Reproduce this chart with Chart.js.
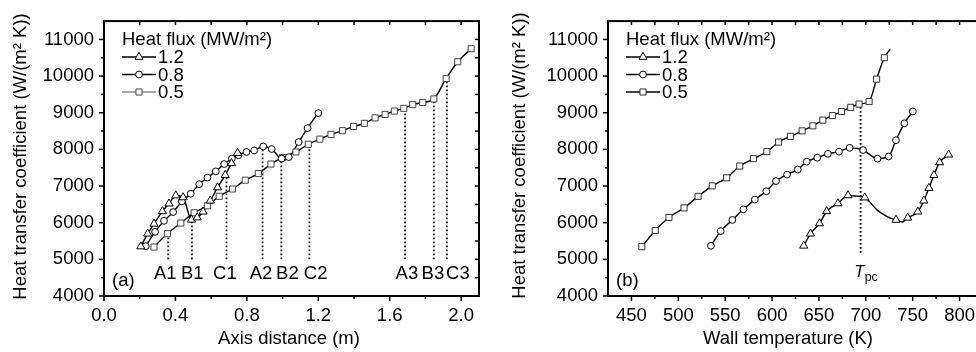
<!DOCTYPE html>
<html><head><meta charset="utf-8">
<script src="https://cdn.jsdelivr.net/npm/chart.js@4.4.1/dist/chart.umd.min.js"></script>
<style>
html,body{margin:0;padding:0;background:#fff;}
body{width:976px;height:352px;overflow:hidden;position:relative;}
#wa{position:absolute;left:0;top:0;width:490px;height:352px;}
#wb{position:absolute;left:490px;top:0;width:500px;height:352px;}
</style></head><body>
<div id="wa"><canvas id="ca" width="490" height="352"></canvas></div>
<div id="wb"><canvas id="cb" width="500" height="352"></canvas></div>
<script>
// ---------- DATA ----------
const legendTitle = 'Heat flux (MW/m²)';
const fluxLabels = ['1.2', '0.8', '0.5'];

// Panel (a): axis distance (m) vs heat transfer coefficient
const distA12 = [0.206,0.245,0.280,0.327,0.364,0.402,0.443,0.490,0.522,0.555,0.595,0.636,0.679,0.714,0.748];
const htcA12  = [5350,5700,5970,6310,6520,6740,6690,6080,6140,6300,6600,6960,7300,7620,7900];
const distA08 = [0.234,0.286,0.336,0.387,0.436,0.486,0.533,0.579,0.626,0.673,0.716,0.753,0.798,0.841,0.892,0.939,0.995,1.035,1.090,1.140,1.200];
const htcA08  = [5360,5750,6050,6290,6580,6790,7050,7230,7400,7600,7750,7840,7930,7970,8080,8010,7750,7790,8200,8580,8990];
const distA08end = [1.215];
const htcA08end  = [9060];
const distA05 = [0.280,0.355,0.430,0.505,0.579,0.645,0.720,0.791,0.864,0.935,1.000,1.075,1.144,1.209,1.271,1.336,1.398,1.458,1.518,1.574,1.626,1.679,1.729,1.785,1.847,1.916,1.981,2.056];
const htcA05  = [5335,5700,5990,6270,6460,6720,6920,7160,7340,7600,7780,7930,8140,8280,8410,8510,8625,8710,8860,8955,9045,9120,9220,9280,9375,9935,10390,10745];

// Panel (a) marker lines A1..C3
const markNames = ['A1','B1','C1','A2','B2','C2','A3','B3','C3'];
const markDist  = [0.360,0.492,0.686,0.888,0.993,1.150,1.686,1.847,1.920];
const markTop   = [5700,6100,7250,8000,7760,8150,9120,9330,9970];
const markBottom = 5000;
const markLabelDist = [0.343,0.494,0.677,0.879,1.027,1.185,1.696,1.842,1.982];
const markLabelHtc = 4600;

// Panel (b): wall temperature (K) vs heat transfer coefficient
const tempB12 = [633.8,641.0,650.6,658.2,670.3,681.0,698.9,732.2,744.7,755.5,761.9,767.3,772.6,778.7,788.3];
const htcB12  = [5370,5700,5980,6310,6525,6745,6685,6075,6135,6300,6600,6945,7295,7645,7855];
const tempB12curve = [690.0,712.5,723.3,739.0];
const htcB12curve  = [6725,6336,6161,6020];
const tempB08 = [534.8,545.2,557.6,569.4,581.6,593.8,604.2,616.0,627.4,637.0,648.2,659.6,671.4,682.8,697.1,712.5,724.3,732.2,741.1,750.1];
const htcB08  = [5370,5770,6075,6365,6630,6858,7136,7311,7450,7665,7773,7878,7938,8042,7982,7747,7807,8251,8712,9035];
const tempB05 = [461.1,475.4,490.0,506.1,521.1,536.2,551.6,565.5,580.2,594.5,607.0,619.5,632.1,643.5,654.2,664.3,674.2,683.9,692.8,703.5,711.5,719.7];
const htcB05  = [5345,5787,6143,6404,6718,7005,7224,7546,7747,7938,8199,8356,8505,8642,8799,8921,9035,9148,9236,9305,9916,10501];
const tempB05end = [726.1];
const htcB05end  = [10736];
const tpc = 694.5;
const tpcTop = 9230, tpcBottom = 5180;

// Ticks
const yTicks = [4000,5000,6000,7000,8000,9000,10000,11000];
const yMinor = [4500,5500,6500,7500,8500,9500,10500,11500];
const xTicksA = [0.0,0.4,0.8,1.2,1.6,2.0];
const xMinorA = [0.2,0.6,1.0,1.4,1.8];
const xTicksB = [450,500,550,600,650,700,750,800];
const xMinorB = [475,525,575,625,675,725,775];

// ---------- RENDER ----------
const FONT = "'Liberation Sans', Arial, Helvetica, sans-serif";
const FS = 18.5;
Chart.defaults.font.family = FONT;
Chart.defaults.font.size = FS;
Chart.defaults.color = '#000';

const pts = (xs, ys) => xs.map((v, i) => ({x: v, y: ys[i]}));

function seg(ctx, x1, y1, x2, y2) { ctx.beginPath(); ctx.moveTo(x1, y1); ctx.lineTo(x2, y2); ctx.stroke(); }

function makeDeco(conf) {
  return {
    id: 'deco',
    afterDatasetsDraw(chart) {
      const ctx = chart.ctx, xs = chart.scales.x, ys = chart.scales.y, a = chart.chartArea;
      ctx.save();
      ctx.strokeStyle = '#000'; ctx.lineWidth = 1.5; ctx.lineCap = 'butt';
      conf.xMajor.forEach(v => { const p = xs.getPixelForValue(v); seg(ctx, p, a.bottom, p, a.bottom + 5); });
      conf.xMinor.forEach(v => { const p = xs.getPixelForValue(v); seg(ctx, p, a.bottom, p, a.bottom + 3); });
      conf.xMajor.concat(conf.xMinor).forEach(v => { const p = xs.getPixelForValue(v); seg(ctx, p, a.top, p, a.top + 4); });
      yTicks.forEach(v => { const p = ys.getPixelForValue(v); seg(ctx, a.left - 5, p, a.left, p); });
      yMinor.forEach(v => { const p = ys.getPixelForValue(v); if (p > a.top + 1) seg(ctx, a.left - 3, p, a.left, p); });
      yTicks.concat(yMinor).forEach(v => { const p = ys.getPixelForValue(v); if (p > a.top + 1) seg(ctx, a.right - 4, p, a.right, p); });
      ctx.lineWidth = 2;
      ctx.strokeRect(a.left, a.top, a.right - a.left, a.bottom - a.top);

      // legend
      ctx.fillStyle = '#000';
      ctx.font = FS + 'px ' + FONT;
      ctx.textAlign = 'left'; ctx.textBaseline = 'alphabetic';
      const lx = a.left + 18;
      ctx.fillText(legendTitle, lx, 44.5);
      const rows = [57, 74.5, 92];
      conf.series.forEach((s, i) => {
        const y = rows[i];
        ctx.strokeStyle = s.legendLine; ctx.lineWidth = 1.4;
        seg(ctx, lx, y, lx + 34, y);
        ctx.fillStyle = '#fff'; ctx.strokeStyle = s.mk; ctx.lineWidth = 1;
        Chart.helpers.drawPoint(ctx, {pointStyle: s.style, radius: s.r, borderWidth: 1, rotation: 0}, lx + 17, y);
        ctx.fillStyle = '#000';
        ctx.textBaseline = 'middle';
        ctx.fillText(fluxLabels[i], lx + 36, y + 1);
      });

      // panel letter
      ctx.textBaseline = 'middle'; ctx.textAlign = 'left';
      ctx.fillText(conf.letter, a.left + 8, a.bottom - 15);

      // extra texts
      if (conf.marks) {
        ctx.textAlign = 'center';
        markNames.forEach((n, i) => {
          ctx.fillText(n, xs.getPixelForValue(markLabelDist[i]), ys.getPixelForValue(markLabelHtc));
        });
      }
      if (conf.tpc) {
        const p = xs.getPixelForValue(tpc);
        ctx.textBaseline = 'alphabetic';
        ctx.textAlign = 'right';
        ctx.font = 'italic 17px ' + FONT;
        ctx.fillText('T', p + 4, 277);
        ctx.textAlign = 'left';
        ctx.font = '12.5px ' + FONT;
        ctx.fillText('pc', p + 4, 281);
      }

      // axis titles
      ctx.font = FS + 'px ' + FONT;
      ctx.textAlign = 'center'; ctx.textBaseline = 'alphabetic';
      ctx.fillText(conf.xTitle, conf.xTitleX, 344);
      ctx.save();
      ctx.translate(conf.yTitleX, conf.yTitleY);
      ctx.rotate(-Math.PI / 2);
      ctx.textBaseline = 'middle';
      ctx.fillText('Heat transfer coefficient (W/(m² K))', 0, 0);
      ctx.restore();
      ctx.restore();
    }
  };
}

function build(id, conf) {
  const datasets = [];
  conf.series.forEach(s => {
    datasets.push({data: pts(s.x, s.y), showLine: false, pointStyle: s.style, pointRadius: s.r, pointHoverRadius: s.r,
      pointBackgroundColor: '#fff', pointBorderColor: s.mk, pointBorderWidth: 1, borderColor: s.mk, order: 0});
  });
  conf.series.forEach(s => {
    const d = pts(s.x, s.y).concat(pts(s.ex || [], s.ey || [])).sort((p, q) => p.x - q.x);
    datasets.push({data: d, pointRadius: 0, borderColor: '#000', borderWidth: 1.4, cubicInterpolationMode: 'monotone', fill: false, order: 1});
  });
  conf.guides.forEach(g => {
    datasets.push({data: [{x: g.x, y: g.y0}, {x: g.x, y: g.y1}], pointRadius: 0, borderColor: '#000', borderWidth: 1.8,
      borderDash: [1.8, 2.2], fill: false, order: 2});
  });
  return new Chart(document.getElementById(id), {
    type: 'line',
    data: {datasets},
    options: {
      responsive: false, animation: false, events: [],
      layout: {padding: {top: 11, right: conf.padRight, bottom: 0, left: 0}},
      plugins: {legend: {display: false}, tooltip: {enabled: false}},
      scales: {
        x: {type: 'linear', min: conf.xMin, max: conf.xMax,
          afterBuildTicks: sc => { sc.ticks = conf.xMajor.map(v => ({value: v})); },
          afterFit: sc => { sc.height = 56; },
          grid: {display: false, drawTicks: false}, border: {display: false},
          ticks: {padding: 9, autoSkip: false, maxRotation: 0, callback: conf.xFmt, font: {size: FS}}},
        y: {type: 'linear', min: 4000, max: 11500,
          afterBuildTicks: sc => { sc.ticks = yTicks.map(v => ({value: v})); },
          afterFit: sc => { sc.width = conf.yWidth; },
          grid: {display: false, drawTicks: false}, border: {display: false},
          ticks: {padding: 10, autoSkip: false, callback: v => String(v), font: {size: FS}}}
      }
    },
    plugins: [makeDeco(conf)]
  });
}

build('ca', {
  xMin: 0, xMax: 2.1, xMajor: xTicksA, xMinor: xMinorA, xFmt: v => Number(v).toFixed(1),
  yWidth: 104, padRight: 11, letter: '(a)', marks: true, tpc: false,
  xTitle: 'Axis distance (m)', xTitleX: 289, yTitleX: 21, yTitleY: 156.5,
  series: [
    {x: distA12, y: htcA12, style: 'triangle', r: 4.7, mk: '#000', legendLine: '#000'},
    {x: distA08, y: htcA08, ex: distA08end, ey: htcA08end, style: 'circle', r: 3.4, mk: '#000', legendLine: '#000'},
    {x: distA05, y: htcA05, style: 'rect', r: 4.3, mk: '#444', legendLine: '#8a8a8a'}
  ],
  guides: markDist.map((v, i) => ({x: v, y0: markBottom, y1: markTop[i]}))
});

build('cb', {
  xMin: 425, xMax: 825, xMajor: xTicksB, xMinor: xMinorB, xFmt: v => String(v),
  yWidth: 118, padRight: 7, letter: '(b)', marks: false, tpc: true,
  xTitle: 'Wall temperature (K)', xTitleX: 298, yTitleX: 30, yTitleY: 155.5,
  series: [
    {x: tempB12, y: htcB12, ex: tempB12curve, ey: htcB12curve, style: 'triangle', r: 4.7, mk: '#000', legendLine: '#000'},
    {x: tempB08, y: htcB08, style: 'circle', r: 3.4, mk: '#000', legendLine: '#000'},
    {x: tempB05, y: htcB05, ex: tempB05end, ey: htcB05end, style: 'rect', r: 4.3, mk: '#333', legendLine: '#000'}
  ],
  guides: [{x: tpc, y0: tpcBottom, y1: tpcTop}]
});
</script>
</body></html>
